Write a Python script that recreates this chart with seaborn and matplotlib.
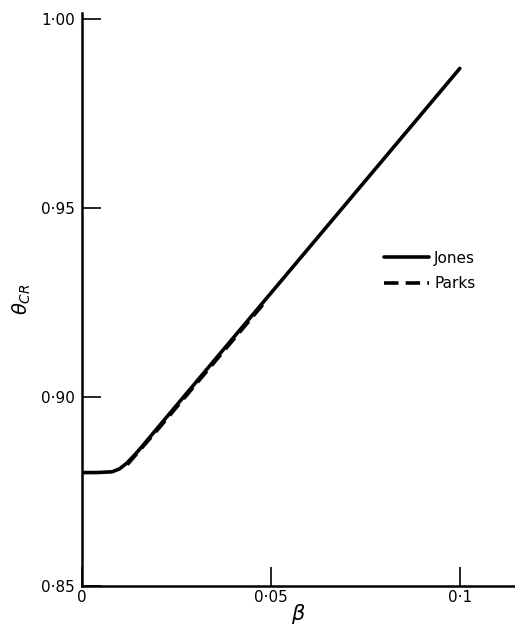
import pandas as pd
import matplotlib
matplotlib.use('Agg')
import matplotlib.pyplot as plt
import seaborn as sns

# Jones curve: flat plateau then a straight rise
jones_beta = [0.0, 0.004, 0.008, 0.010, 0.012, 0.014, 0.016, 0.020, 0.050, 0.100]
jones_theta = [0.8800, 0.8800, 0.8802, 0.8810, 0.8826, 0.8847, 0.8870, 0.8918, 0.9275, 0.9870]

# Parks curve: dashed, only up to beta ~0.05, hugging the Jones line
parks_beta = [0.012, 0.020, 0.030, 0.040, 0.049]
parks_theta = [0.8821, 0.8913, 0.9032, 0.9151, 0.9258]

xticks = [0, 0.05, 0.1]
xtick_labels = ['0', '0·05', '0·1']
yticks = [0.85, 0.90, 0.95, 1.00]
ytick_labels = ['0·85', '0·90', '0·95', '1·00']

sns.set_style('white')
plt.rcParams['font.family'] = ['DejaVu Sans']
plt.rcParams['text.color'] = 'black'
plt.rcParams['axes.labelcolor'] = 'black'
plt.rcParams['xtick.color'] = 'black'
plt.rcParams['ytick.color'] = 'black'

df = pd.concat([
    pd.DataFrame({'beta': jones_beta, 'theta': jones_theta, 'model': 'Jones'}),
    pd.DataFrame({'beta': parks_beta, 'theta': parks_theta, 'model': 'Parks'}),
], ignore_index=True)

fig = plt.figure(figsize=(5.15, 6.32), dpi=100)
ax = fig.add_axes([0.159, 0.073, 0.841, 0.906])

sns.lineplot(data=df, x='beta', y='theta', hue='model', style='model',
             palette={'Jones': 'black', 'Parks': 'black'},
             dashes={'Jones': '', 'Parks': (4, 2)},
             sort=False, estimator=None, ax=ax)
for line in ax.lines:
    line.set_linewidth(2.6)
    line.set_solid_capstyle('round')

ax.set_xlim(0, 0.1146)
ax.set_ylim(0.85, 1.0016)
ax.set_xticks(xticks)
ax.set_xticklabels(xtick_labels, fontsize=11)
ax.set_yticks(yticks)
ax.set_yticklabels(ytick_labels, fontsize=11)
ax.tick_params(axis='both', direction='in', length=14, width=1.2, colors='black',
               left=True, bottom=True, pad=5)
ax.tick_params(axis='x', pad=3)

for s in ['top', 'right']:
    ax.spines[s].set_visible(False)
for s in ['left', 'bottom']:
    ax.spines[s].set_linewidth(1.8)
    ax.spines[s].set_color('black')

ax.set_xlabel(r'$\beta$', fontsize=15, labelpad=-2)
ax.set_ylabel(r'$\theta_{CR}$', fontsize=14, labelpad=6)

leg = ax.legend(loc='center left', bbox_to_anchor=(0.665, 0.55), frameon=False,
                fontsize=11, handlelength=3.0, handletextpad=0.3, labelspacing=0.7,
                title=None)
for t in leg.get_texts():
    t.set_color('black')

fig.savefig('out.png', dpi=100)
